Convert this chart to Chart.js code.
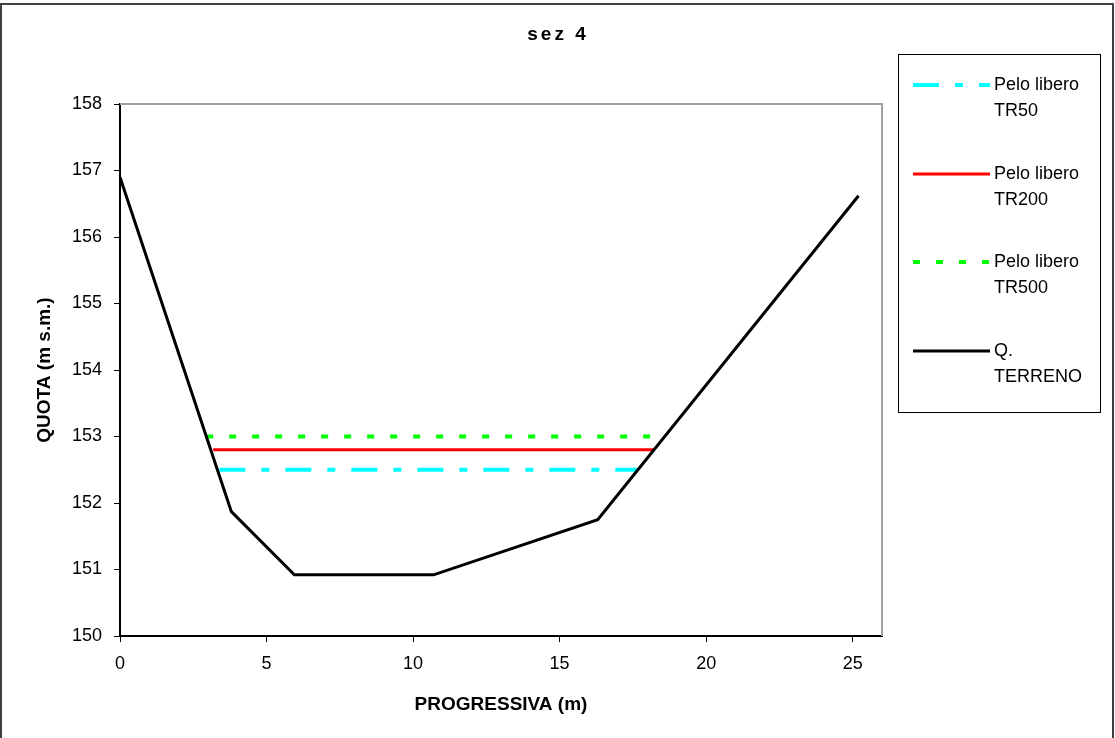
<!DOCTYPE html>
<html>
<head>
<meta charset="utf-8">
<script src="https://cdn.jsdelivr.net/npm/chart.js@4.4.0/dist/chart.umd.js"></script>
<style>
  body { margin: 0; background: #ffffff; }
  #wrap { width: 1115px; height: 738px; }
</style>
</head>
<body>
<div id="wrap"><canvas id="chart" width="1115" height="738"></canvas></div>
<script>
// chart data
const chartTitle = 'sez 4';
const xTicks = [0, 5, 10, 15, 20, 25];

const terrenoX = [0, 3.8, 5.95, 10.7, 16.3, 25.2];
const terrenoY = [156.9, 151.87, 150.92, 150.92, 151.75, 156.62];

const tr50X = [3.39, 17.64];
const tr50Y = [152.5, 152.5];
const tr200X = [3.18, 18.2];
const tr200Y = [152.8, 152.8];
const tr500X = [2.94, 18.44];
const tr500Y = [153.0, 153.0];

const legendLabels = [
  ['Pelo libero', 'TR50'],
  ['Pelo libero', 'TR200'],
  ['Pelo libero', 'TR500'],
  ['Q.', 'TERRENO'],
];

const toPoints = (xs, ys) => xs.map((x, i) => ({x, y: ys[i]}));

const FONT = "'Liberation Sans', Arial, sans-serif";

// frame, title and the boxed legend on the right
const decorPlugin = {
  id: 'decor',
  beforeDatasetsDraw(chart) {
    const {ctx, chartArea: a} = chart;
    ctx.save();
    ctx.strokeStyle = '#a0a0a0';
    ctx.lineWidth = 2;
    ctx.beginPath();
    ctx.moveTo(a.left, a.top);
    ctx.lineTo(a.right, a.top);
    ctx.lineTo(a.right, a.bottom);
    ctx.stroke();
    ctx.restore();
  },
  afterDraw(chart) {
    const {ctx} = chart;
    ctx.save();
    // outer border
    ctx.strokeStyle = '#404040';
    ctx.lineWidth = 2;
    ctx.strokeRect(1, 4, 1112, 740);

    // title
    ctx.fillStyle = '#000';
    ctx.font = 'bold 19px ' + FONT;
    ctx.textAlign = 'center';
    ctx.textBaseline = 'middle';
    ctx.letterSpacing = '3px';
    ctx.fillText(chartTitle, 558, 35);
    ctx.letterSpacing = '0px';

    // legend box
    ctx.strokeStyle = '#000';
    ctx.lineWidth = 1;
    ctx.strokeRect(898.5, 54.5, 202, 358);

    const rowY = [85, 174, 262, 351];
    const ds = chart.data.datasets;
    ctx.font = '18px ' + FONT;
    ctx.textAlign = 'left';
    legendLabels.forEach((lines, i) => {
      const d = ds[i];
      const y = rowY[i];
      ctx.beginPath();
      ctx.strokeStyle = d.borderColor;
      ctx.lineWidth = d.borderWidth;
      ctx.setLineDash(d.borderDash || []);
      ctx.lineDashOffset = 0;
      ctx.moveTo(913, y);
      ctx.lineTo(990, y);
      ctx.stroke();
      ctx.setLineDash([]);
      ctx.fillStyle = '#000';
      ctx.fillText(lines[0], 994, y);
      ctx.fillText(lines[1], 994, y + 26);
    });
    ctx.restore();
  },
};

const ctx = document.getElementById('chart').getContext('2d');

new Chart(ctx, {
  type: 'scatter',
  data: {
    datasets: [
      {
        label: 'Pelo libero TR50',
        data: toPoints(tr50X, tr50Y),
        borderColor: '#00ffff',
        borderWidth: 4,
        borderDash: [26, 16, 8, 16],
      },
      {
        label: 'Pelo libero TR200',
        data: toPoints(tr200X, tr200Y),
        borderColor: '#ff0000',
        borderWidth: 3,
      },
      {
        label: 'Pelo libero TR500',
        data: toPoints(tr500X, tr500Y),
        borderColor: '#00ff00',
        borderWidth: 4,
        borderDash: [7, 16],
      },
      {
        label: 'Q. TERRENO',
        data: toPoints(terrenoX, terrenoY),
        borderColor: '#000000',
        borderWidth: 3,
        order: -1,
      },
    ],
  },
  options: {
    responsive: false,
    animation: false,
    devicePixelRatio: 1,
    showLine: true,
    elements: {
      point: {radius: 0, hoverRadius: 0},
      line: {tension: 0, borderCapStyle: 'butt', borderJoinStyle: 'miter', fill: false},
    },
    layout: {padding: {left: 0, top: 104, right: 233, bottom: 0}},
    plugins: {
      legend: {display: false},
      tooltip: {enabled: false},
      title: {display: false},
    },
    scales: {
      x: {
        type: 'linear',
        min: 0,
        max: 26,
        afterBuildTicks: scale => {
          scale.ticks = xTicks.map(v => ({value: v}));
        },
        afterFit: scale => {
          scale.height = 102;
        },
        grid: {
          drawOnChartArea: false,
          drawTicks: true,
          tickLength: 6,
          tickColor: '#000',
        },
        border: {display: true, color: '#000', width: 2},
        ticks: {
          color: '#000',
          padding: 11,
          maxRotation: 0,
          font: {family: FONT, size: 18},
        },
        title: {
          display: true,
          text: 'PROGRESSIVA (m)',
          color: '#000',
          font: {family: FONT, size: 19, weight: 'bold'},
          padding: {top: 0, bottom: 22},
        },
      },
      y: {
        type: 'linear',
        min: 150,
        max: 158,
        ticks: {
          stepSize: 1,
          color: '#000',
          padding: 12,
          font: {family: FONT, size: 18},
        },
        afterFit: scale => {
          scale.width = 120;
        },
        grid: {
          drawOnChartArea: false,
          drawTicks: true,
          tickLength: 6,
          tickColor: '#000',
        },
        border: {display: true, color: '#000', width: 2},
        title: {
          display: true,
          text: 'QUOTA (m s.m.)',
          color: '#000',
          font: {family: FONT, size: 19, weight: 'bold'},
          padding: {top: 33, bottom: 0},
        },
      },
    },
  },
  plugins: [decorPlugin],
});
</script>
</body>
</html>
